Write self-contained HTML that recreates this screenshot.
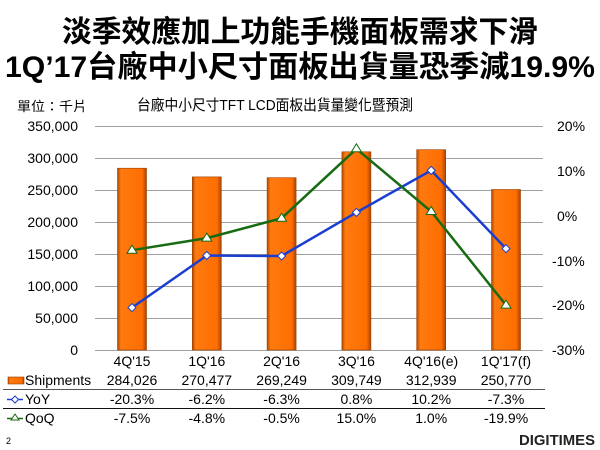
<!DOCTYPE html>
<html><head><meta charset="utf-8"><style>
html,body{margin:0;padding:0;background:#fff}
svg{display:block}
text{font-family:"Liberation Sans","Noto Sans CJK TC",sans-serif}
</style></head><body>
<svg width="600" height="450" viewBox="0 0 600 450" xmlns="http://www.w3.org/2000/svg">
<defs>
<linearGradient id="bg" x1="0" x2="1" y1="0" y2="0">
<stop offset="0" stop-color="#b24a00"/><stop offset="0.12" stop-color="#ff7a10"/><stop offset="0.85" stop-color="#ff6e00"/><stop offset="1" stop-color="#a84400"/>
</linearGradient>
</defs>
<text x="300" y="42" font-size="30" font-weight="bold" text-anchor="middle" textLength="476" lengthAdjust="spacingAndGlyphs">淡季效應加上功能手機面板需求下滑</text>
<text x="300" y="77" font-size="30" font-weight="bold" text-anchor="middle" textLength="590" lengthAdjust="spacingAndGlyphs">1Q’17台廠中小尺寸面板出貨量恐季減19.9%</text>
<text x="17" y="111" font-size="13" textLength="70" lengthAdjust="spacingAndGlyphs">單位：千片</text>
<text x="137" y="110" font-size="15" textLength="276" lengthAdjust="spacingAndGlyphs">台廠中小尺寸TFT LCD面板出貨量變化暨預測</text>
<g stroke="#a0a0a0" stroke-width="1">
<line x1="95" x2="543" y1="126.5" y2="126.5"/><line x1="95" x2="543" y1="158.5" y2="158.5"/>
<line x1="95" x2="543" y1="190.5" y2="190.5"/><line x1="95" x2="543" y1="222.5" y2="222.5"/>
<line x1="95" x2="543" y1="254.5" y2="254.5"/><line x1="95" x2="543" y1="286.5" y2="286.5"/>
<line x1="95" x2="543" y1="318.5" y2="318.5"/><line x1="95" x2="543" y1="350.5" y2="350.5"/>
</g>
<g font-size="14" text-anchor="end" fill="#000">
<text x="78" y="131">350,000</text><text x="78" y="163">300,000</text><text x="78" y="195">250,000</text>
<text x="78" y="227">200,000</text><text x="78" y="259">150,000</text><text x="78" y="291">100,000</text>
<text x="78" y="323">50,000</text><text x="78" y="355">0</text>
</g>
<g font-size="14" fill="#000">
<text x="557" y="131">20%</text><text x="557" y="176">10%</text><text x="557" y="221">0%</text>
<text x="552" y="266">-10%</text><text x="552" y="310">-20%</text><text x="552" y="355">-30%</text>
</g>
<g fill="url(#bg)" stroke="#9a4000" stroke-width="0.6">
<rect x="117.5" y="168.2" width="29" height="181.8"/>
<rect x="192.3" y="176.9" width="29" height="173.1"/>
<rect x="267.1" y="177.7" width="29" height="172.3"/>
<rect x="341.9" y="151.8" width="29" height="198.2"/>
<rect x="416.7" y="149.7" width="29" height="200.3"/>
<rect x="491.5" y="189.5" width="29" height="160.5"/>
</g>
<polyline fill="none" stroke="#1a3fd0" stroke-width="2.5" points="132,307.6 206.8,255.5 281.6,256 356.4,212.4 431.2,170.4 506,248.6"/>
<polyline fill="none" stroke="#176b12" stroke-width="2.5" points="132,250.2 206.8,238.1 281.6,218.2 356.4,148.8 431.2,211.5 506,305.1"/>
<g fill="#fff" stroke="#1a3fd0" stroke-width="1">
<path d="M132 303.6l4 4-4 4-4-4z"/><path d="M206.8 251.5l4 4-4 4-4-4z"/><path d="M281.6 252l4 4-4 4-4-4z"/>
<path d="M356.4 208.4l4 4-4 4-4-4z"/><path d="M431.2 166.4l4 4-4 4-4-4z"/><path d="M506 244.6l4 4-4 4-4-4z"/>
</g>
<g fill="#fff" stroke="#176b12" stroke-width="1">
<path d="M132 245.2l5 8h-10z"/><path d="M206.8 233.1l5 8h-10z"/><path d="M281.6 213.2l5 8h-10z"/>
<path d="M356.4 143.8l5 8h-10z"/><path d="M431.2 206.5l5 8h-10z"/><path d="M506 300.1l5 8h-10z"/>
</g>
<g font-size="14" text-anchor="middle" fill="#000">
<text x="132" y="366">4Q'15</text><text x="206.8" y="366">1Q'16</text><text x="281.6" y="366">2Q'16</text>
<text x="356.4" y="366">3Q'16</text><text x="431.2" y="366">4Q'16(e)</text><text x="506" y="366">1Q'17(f)</text>
<text x="132" y="385">284,026</text><text x="206.8" y="385">270,477</text><text x="281.6" y="385">269,249</text>
<text x="356.4" y="385">309,749</text><text x="431.2" y="385">312,939</text><text x="506" y="385">250,770</text>
<text x="132" y="404">-20.3%</text><text x="206.8" y="404">-6.2%</text><text x="281.6" y="404">-6.3%</text>
<text x="356.4" y="404">0.8%</text><text x="431.2" y="404">10.2%</text><text x="506" y="404">-7.3%</text>
<text x="132" y="423">-7.5%</text><text x="206.8" y="423">-4.8%</text><text x="281.6" y="423">-0.5%</text>
<text x="356.4" y="423">15.0%</text><text x="431.2" y="423">1.0%</text><text x="506" y="423">-19.9%</text>
</g>
<line x1="3" x2="545" y1="389.5" y2="389.5" stroke="#555"/>
<line x1="3" x2="545" y1="408.5" y2="408.5" stroke="#111"/>
<rect x="8" y="377" width="16" height="7" fill="url(#bg)" stroke="#9a4000" stroke-width="0.6"/>
<text x="25" y="385" font-size="14">Shipments</text>
<line x1="7" x2="23" y1="399.5" y2="399.5" stroke="#1a3fd0" stroke-width="1.5"/>
<path d="M15 396l3.5 3.5-3.5 3.5-3.5-3.5z" fill="#fff" stroke="#1a3fd0"/>
<text x="25" y="404" font-size="14">YoY</text>
<line x1="7" x2="23" y1="418.5" y2="418.5" stroke="#176b12" stroke-width="1.5"/>
<path d="M15 414l4 6h-8z" fill="#fff" stroke="#176b12"/>
<text x="25" y="423" font-size="14">QoQ</text>
<text x="6" y="444" font-size="9">2</text>
<text x="595" y="445" font-size="15" font-weight="bold" text-anchor="end" fill="#222" textLength="76" lengthAdjust="spacingAndGlyphs">DIGITIMES</text>
</svg>
</body></html>
